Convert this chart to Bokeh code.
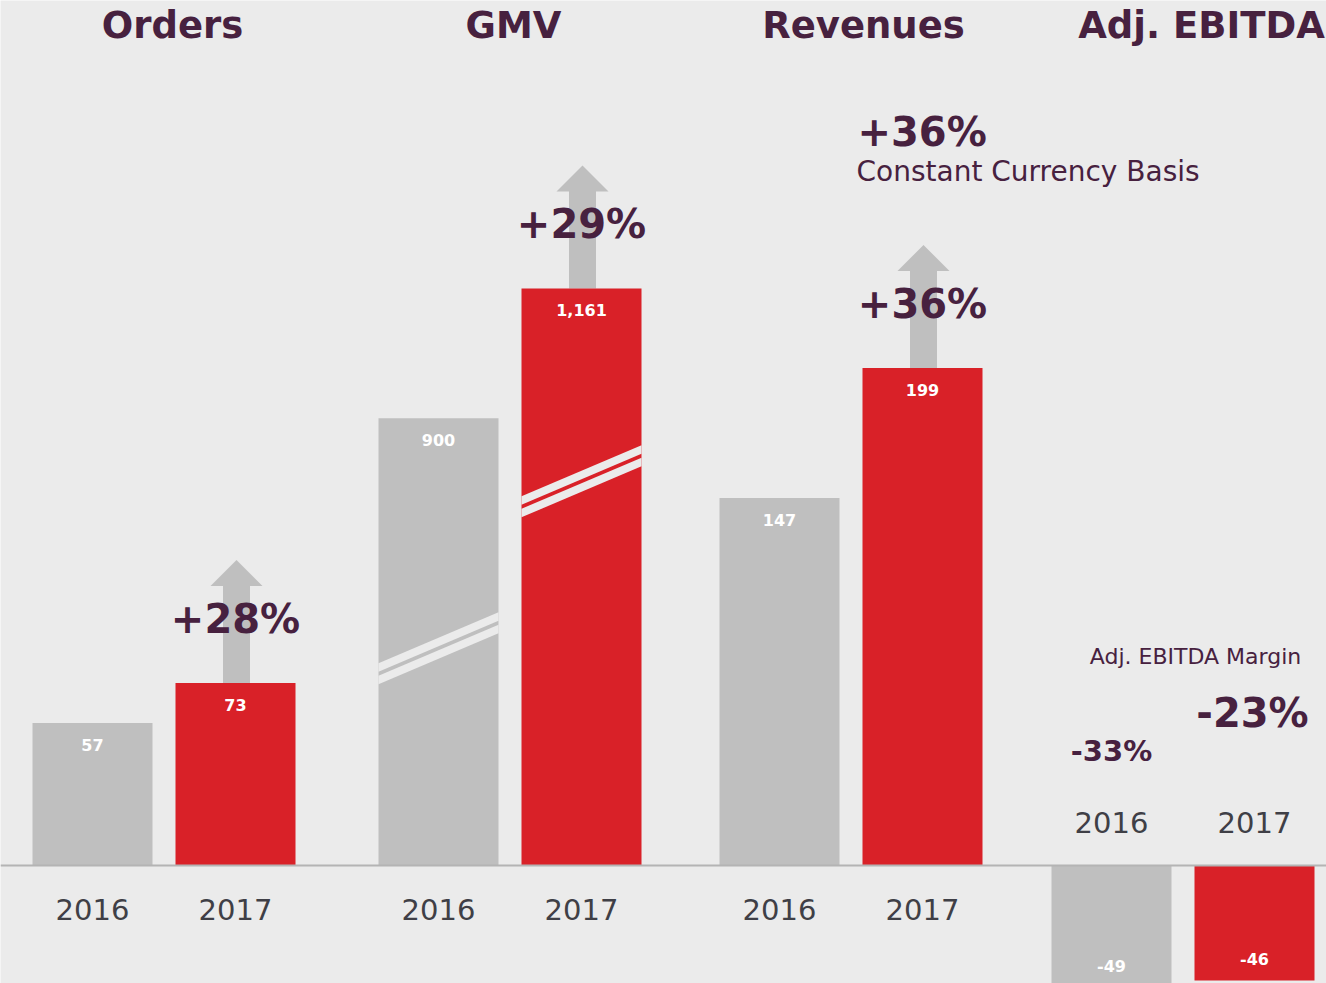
from bokeh.plotting import figure
from bokeh.models import Range1d, Span
from bokeh.core.properties import value
from bokeh.embed import file_html
from bokeh.resources import INLINE

# ---------------- data ----------------
metrics = ["Orders", "GMV", "Revenues", "Adj. EBITDA"]
years = ["2016", "2017"]
values_2016 = [57, 900, 147, -49]
values_2017 = [73, 1161, 199, -46]
growth_pct = [28, 29, 36]          # Orders, GMV, Revenues (2017 vs 2016)
revenue_growth_cc = 36             # constant currency basis
ebitda_margin = [-33, -23]         # 2016, 2017

# ---------------- style / layout ----------------
BG = "#ebebeb"
GREY = "#bfbfbf"
RED = "#d92128"
PURPLE = "#47213f"
YEAR_C = "#3f3f46"
FONT = value("DejaVu Sans")

W, H = 1326, 983
OFF = 0
PX_PER_UNIT = 2.5          # main scale (Orders, Revenues, EBITDA)
GMV_FACTOR = 5.03          # GMV axis is compressed (broken axis)
BASE_PX = 865
group_left = [32, 378, 719, 1051]
BAR_W = 120
PITCH = 143
title_x = [172, 513, 863, 1201]

y_end = (BASE_PX - OFF) / PX_PER_UNIT
y_start = y_end - H / PX_PER_UNIT

p = figure(width=W, height=H, x_range=Range1d(OFF, OFF + W),
           y_range=Range1d(y_start, y_end), output_backend="svg",
           toolbar_location=None, x_axis_location=None, y_axis_location=None,
           min_border=0, background_fill_color=BG, border_fill_color=BG,
           outline_line_color=None)
p.grid.visible = False
p.extra_y_ranges = {"gmv": Range1d(y_start * GMV_FACTOR, y_end * GMV_FACTOR)}

range_names = ["default", "gmv", "default", "default"]
ppu = [PX_PER_UNIT, PX_PER_UNIT / GMV_FACTOR, PX_PER_UNIT, PX_PER_UNIT]


def fmt(v):
    return f"{v:,}"


# arrows (behind bars)
arrow_shape = [(-13.5, 0), (-13.5, 97), (-26, 97), (0, 123), (26, 97), (13.5, 97), (13.5, 0)]
for g in range(3):
    xc = group_left[g] + PITCH + BAR_W / 2 + 1
    top = values_2017[g]
    xs = [xc + dx for dx, dy in arrow_shape]
    ys = [top + dy / ppu[g] for dx, dy in arrow_shape]
    p.patch(xs, ys, fill_color=GREY, line_color=None, y_range_name=range_names[g])

# bars
for g in range(4):
    x16 = group_left[g] + BAR_W / 2
    x17 = group_left[g] + PITCH + BAR_W / 2
    rn = range_names[g]
    p.vbar(x=[x16], top=[values_2016[g]], bottom=0, width=BAR_W,
           fill_color=GREY, line_color=None, y_range_name=rn)
    p.vbar(x=[x17], top=[values_2017[g]], bottom=0, width=BAR_W,
           fill_color=RED, line_color=None, y_range_name=rn)
    for xv, v in ((x16, values_2016[g]), (x17, values_2017[g])):
        p.text(x=[xv], y=[v], text=[fmt(v)], y_offset=22 if v > 0 else -22,
               text_align="center", text_baseline="middle", text_color="white",
               text_font=FONT, text_font_style="bold", text_font_size="16px",
               y_range_name=rn)
    # year labels
    yoff = 44 if g < 3 else -43
    p.text(x=[x16, x17], y=[0, 0], text=years, y_offset=yoff,
           text_align="center", text_baseline="middle", text_color=YEAR_C,
           text_font=FONT, text_font_size="29px")
    # titles
    p.text(x=[title_x[g]], y=[y_end], text=[metrics[g]], y_offset=25,
           text_align="center", text_baseline="middle", text_color=PURPLE,
           text_font=FONT, text_font_style="bold", text_font_size="37px")

# broken-axis marks on GMV bars
BREAKS_GMV = [437, 773]
SLOPE = 51 / 120
g = 1
for i, bc in enumerate(BREAKS_GMV):
    xc = group_left[g] + i * PITCH + BAR_W / 2
    xl, xr = xc - BAR_W / 2, xc + BAR_W / 2
    for d0, d1 in ((2, 10.5), (-10.5, -2)):
        def yy(x, d):
            return bc + ((x - xc) * SLOPE - d) / ppu[g]
        p.patch([xl, xr, xr, xl], [yy(xl, d0), yy(xr, d0), yy(xr, d1), yy(xl, d1)],
                fill_color=BG, line_color=None, y_range_name="gmv")

# growth labels
for g in range(3):
    xc = group_left[g] + PITCH + BAR_W / 2
    p.text(x=[xc], y=[values_2017[g]], text=[f"+{growth_pct[g]}%"], y_offset=-64,
           text_align="center", text_baseline="middle", text_color=PURPLE,
           text_font=FONT, text_font_style="bold", text_font_size="40px",
           y_range_name=range_names[g])

# constant currency note
xl_cc = group_left[2] + PITCH - 5
p.text(x=[xl_cc], y=[values_2017[2]], text=[f"+{revenue_growth_cc}%"], y_offset=-236,
       text_align="left", text_baseline="middle", text_color=PURPLE,
       text_font=FONT, text_font_style="bold", text_font_size="40px")
p.text(x=[xl_cc - 1], y=[values_2017[2]], text=["Constant Currency Basis"], y_offset=-197,
       text_align="left", text_baseline="middle", text_color=PURPLE,
       text_font=FONT, text_font_size="28px")

# EBITDA margin
g = 3
p.text(x=[group_left[g] + 144], y=[0], text=["Adj. EBITDA Margin"], y_offset=-209,
       text_align="center", text_baseline="middle", text_color=PURPLE,
       text_font=FONT, text_font_size="22px")
p.text(x=[group_left[g] + BAR_W / 2], y=[0], text=[f"{ebitda_margin[0]}%"], y_offset=-115,
       text_align="center", text_baseline="middle", text_color=PURPLE,
       text_font=FONT, text_font_style="bold", text_font_size="29px")
p.text(x=[group_left[g] + PITCH + BAR_W / 2 - 2], y=[0], text=[f"{ebitda_margin[1]}%"], y_offset=-153,
       text_align="center", text_baseline="middle", text_color=PURPLE,
       text_font=FONT, text_font_style="bold", text_font_size="40px")

# baseline
p.add_layout(Span(location=0, dimension="width", line_color="#b4b4b4", line_width=2))

html = file_html(p, INLINE)
open("out.html", "w").write(html)
